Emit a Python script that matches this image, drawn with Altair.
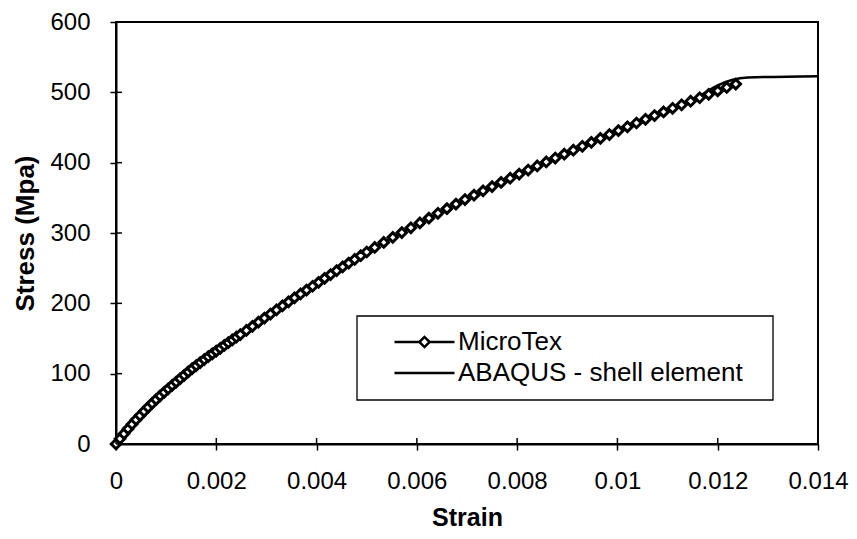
import altair as alt
import pandas as pd

FONT = "Liberation Sans"

series_names = ["MicroTex", "ABAQUS - shell element"]

micro_strain = [
    0, 0.00008, 0.00016, 0.00024, 0.00032, 0.0004, 0.00048, 0.00056, 0.00064, 0.00072,
    0.0008, 0.00088, 0.00096, 0.00104, 0.00112, 0.0012, 0.00128, 0.00136, 0.00144, 0.00152,
    0.0016, 0.00168, 0.00176, 0.00184, 0.00192, 0.002, 0.00208, 0.00216, 0.00224, 0.00232,
    0.0024, 0.00248,
    0.0026, 0.00272, 0.00284, 0.00296, 0.00308, 0.0032, 0.00332, 0.00344, 0.00356, 0.00368,
    0.0038, 0.00392, 0.00404, 0.00416, 0.00428, 0.0044, 0.00452, 0.00464, 0.00476, 0.00488,
    0.005,
    0.00516, 0.00534, 0.00552, 0.0057, 0.00588, 0.00606, 0.00624, 0.00642, 0.0066, 0.00678,
    0.00696, 0.00714, 0.00732, 0.0075, 0.00768, 0.00786, 0.00804, 0.00822, 0.0084, 0.00858,
    0.00876, 0.00894, 0.00912, 0.0093, 0.00948, 0.00966, 0.00984, 0.01002, 0.0102, 0.01038,
    0.01056, 0.01074, 0.01092, 0.0111, 0.01128, 0.01146, 0.01164, 0.01182, 0.012, 0.01218,
    0.01236,
]
micro_stress = [
    0, 7.5, 14.6, 21.5, 28.1, 34.5, 40.5, 46.5, 52.2, 57.8,
    63.2, 68.5, 73.5, 78.4, 83.3, 88.1, 92.9, 97.7, 102.5, 107.1,
    111.5, 115.8, 120.0, 124.1, 128.1, 132.0, 136.1, 140.1, 144.0, 147.9,
    151.8, 155.6,
    161.4, 167.3, 173.2, 179.0, 184.8, 190.6, 196.4, 202.1, 207.8, 213.3,
    218.8, 224.3, 229.8, 235.4, 240.9, 246.4, 251.9, 257.2, 262.4, 267.7,
    273.0,
    279.4, 286.6, 293.8, 300.6, 307.4, 314.3, 321.1, 328.0, 334.6, 341.1,
    347.6, 353.8, 359.9, 366.0, 371.9, 377.9, 383.8, 389.5, 395.3, 401.0,
    406.6, 412.1, 417.7, 423.3, 428.9, 434.5, 440.0, 445.6, 451.0, 456.4,
    461.7, 467.0, 472.2, 477.3, 482.3, 487.4, 492.3, 497.1, 502.0, 506.9,
    511.7,
]

abaqus_strain = [0, 0.0005, 0.001, 0.0015, 0.002, 0.003, 0.004, 0.005, 0.006, 0.007,
                 0.008, 0.009, 0.010, 0.011, 0.0114, 0.0117, 0.0120, 0.0123, 0.0126, 0.014]
abaqus_stress = [0, 42, 76, 106, 132, 181, 228, 273, 312, 349,
                 382.5, 414, 445, 474.5, 486, 497.5, 510, 518, 521, 523]

x_ticks = [0, 0.002, 0.004, 0.006, 0.008, 0.01, 0.012, 0.014]
y_ticks = [0, 100, 200, 300, 400, 500, 600]

W, H = 702, 422
PAD_L, PAD_T = 108, 14
# legend frame position in plot-area pixels
LEG_X, LEG_Y, LEG_X2, LEG_Y2 = 241, 294, 657, 378

micro = pd.DataFrame({"strain": micro_strain, "stress": micro_stress, "series": series_names[0]})
abaqus = pd.DataFrame({"strain": abaqus_strain, "stress": abaqus_stress, "series": series_names[1]})
legend_df = pd.DataFrame({"series": series_names})
xt_df = pd.DataFrame({"strain": x_ticks})
yt_df = pd.DataFrame({"stress": y_ticks})
frame_df = pd.DataFrame({"k": [0]})

xscale = alt.Scale(domain=[0, 0.014], nice=False, zero=False)
yscale = alt.Scale(domain=[0, 600], nice=False)

x_axis = alt.Axis(values=x_ticks, format="~g", title="Strain", grid=False,
                  tickSize=6, tickWidth=1.5, tickColor="black",
                  domainColor="black", domainWidth=2,
                  labelFontSize=24, labelColor="black", labelFont=FONT, labelPadding=19,
                  labelFlush=False, labelOverlap=False,
                  titleFont=FONT, titleFontSize=25, titleFontWeight="bold", titleColor="black",
                  titleY=73, titleBaseline="middle")
y_axis = alt.Axis(values=y_ticks, title="Stress (Mpa)", grid=False,
                  tickSize=6, tickWidth=1.5, tickColor="black",
                  domainColor="black", domainWidth=2,
                  labelFontSize=24, labelColor="black", labelFont=FONT, labelPadding=20,
                  labelFlush=False, labelOverlap=False,
                  titleFont=FONT, titleFontSize=26, titleFontWeight="bold", titleColor="black",
                  titleX=-91, titleBaseline="middle")

X = lambda: alt.X("strain:Q", scale=xscale, axis=x_axis)
Y = lambda: alt.Y("stress:Q", scale=yscale, axis=y_axis)

abaqus_line = alt.Chart(abaqus).mark_line(color="black", strokeWidth=2.5, interpolate="monotone").encode(
    x=X(), y=Y())
micro_line = alt.Chart(micro).mark_line(color="black", strokeWidth=2).encode(x=X(), y=Y())
micro_pts = alt.Chart(micro).mark_point(shape="diamond", filled=True, fill="white", stroke="black",
                                        strokeWidth=3, size=90, opacity=1).encode(x=X(), y=Y())

frame = alt.Chart(frame_df).mark_rect(fill="white", stroke="black", strokeWidth=1.3).encode(
    x=alt.value(LEG_X), x2=alt.value(LEG_X2), y=alt.value(LEG_Y), y2=alt.value(LEG_Y2))

path_micro = "M-1,0L-0.17,0M0.17,0L1,0M-0.17,0L0,-0.17L0.17,0L0,0.17Z"
path_abaqus = "M-1,0L1,0"

legend_layer = alt.Chart(legend_df).mark_point(opacity=0, color="black").encode(
    shape=alt.Shape("series:N",
                    scale=alt.Scale(domain=series_names, range=[path_micro, path_abaqus]),
                    legend=alt.Legend(orient="none", legendX=LEG_X, legendY=LEG_Y, title=None,
                                      symbolSize=3600, symbolStrokeWidth=2.5,
                                      symbolStrokeColor="black", symbolFillColor="white",
                                      symbolOpacity=1, clipHeight=26, rowPadding=5,
                                      symbolOffset=23, labelOffset=2, padding=13,
                                      labelFontSize=26, labelFont=FONT, labelColor="black",
                                      labelLimit=500))
)

xticks_in = alt.Chart(xt_df).mark_rule(color="black", strokeWidth=1.5).encode(
    x=X(), y=alt.value(H), y2=alt.value(H - 6))
yticks_in = alt.Chart(yt_df).mark_rule(color="black", strokeWidth=1.5).encode(
    y=Y(), x=alt.value(0), x2=alt.value(6))

chart = alt.layer(abaqus_line, micro_line, micro_pts, frame, legend_layer, xticks_in, yticks_in).properties(
    width=W, height=H,
    padding={"left": PAD_L, "top": PAD_T, "right": 31, "bottom": 87},
    autosize=alt.AutoSizeParams(type="none"),
    background="white",
).configure_view(stroke="black", strokeWidth=2)

chart.save("out.html", embed_options={"renderer": "svg", "actions": False})
